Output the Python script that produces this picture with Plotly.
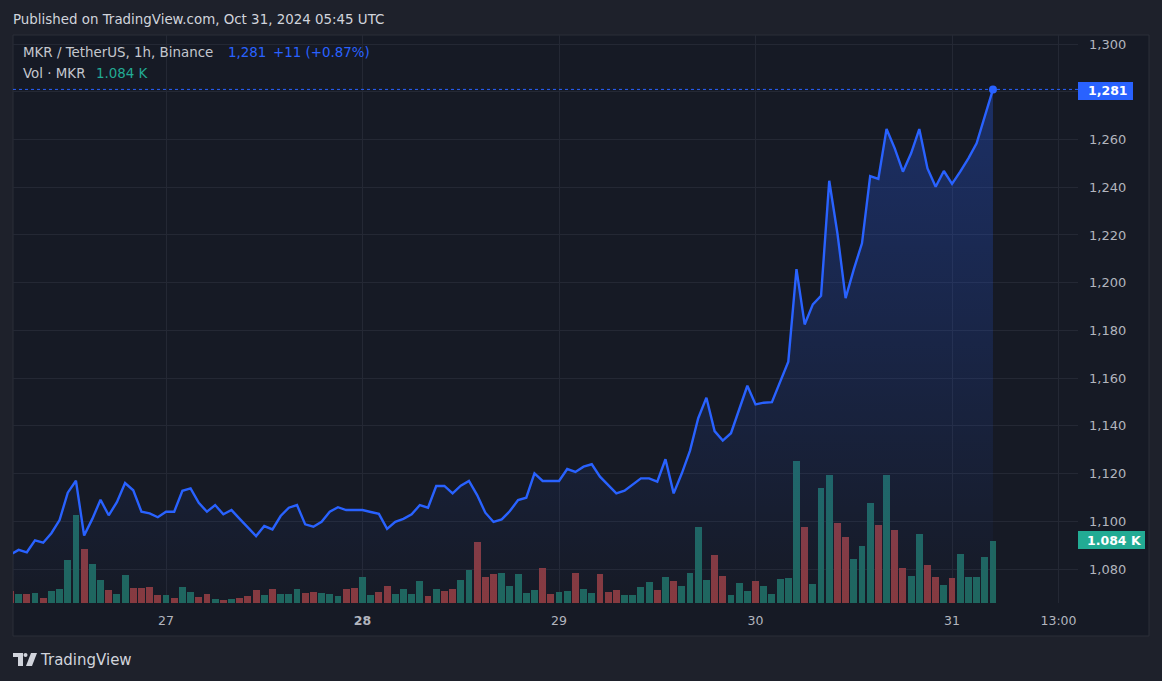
import plotly.graph_objects as go
import pandas as pd

# ---------------- data ----------------
start_time = "2024-10-26 05:00"
price = [1086, 1088, 1087, 1092, 1091, 1095, 1100.5, 1112, 1117, 1094, 1101,
         1109, 1102.5, 1108, 1116, 1113, 1104, 1103.3, 1101.7, 1104, 1104,
         1112.8, 1113.8, 1107.7, 1104, 1106.8, 1102.9, 1104.7, 1101, 1097.5, 1093.8,
         1098, 1096.6, 1102.2, 1105.7, 1106.8, 1098.7, 1097.7, 1099.8, 1104, 1105.9,
         1104.7, 1104.7, 1104.7, 1103.9, 1103.1, 1096.8, 1099.8, 1101, 1102.9, 1106.8,
         1105.7, 1114.8, 1114.8, 1111.7, 1114.9, 1116.9, 1111, 1103.6, 1099.7, 1100.8,
         1104.3, 1108.9, 1109.9, 1120.1, 1116.9, 1116.9, 1116.9, 1121.9, 1120.7, 1122.9,
         1123.9, 1118.7, 1115.2, 1111.7, 1112.8, 1115.6, 1118, 1118, 1116.6, 1126,
         1111.7, 1120.1, 1129.6, 1143.2, 1151.8, 1137.8, 1133.8, 1136.9, 1146.6, 1156.8,
         1149, 1149.7, 1149.9, 1158.5, 1166.9, 1205.7, 1182.5, 1190.9, 1194.5, 1242.7,
         1220.7, 1193.5, 1205.6, 1216.5, 1244.7, 1243.5, 1264.4, 1256.3, 1246.5, 1254.2,
         1264.4, 1247.9, 1240.2, 1246.8, 1241.4, 1246.5, 1252.1, 1258.4, 1270, 1281]

volume = [210, 157, 157, 175, 87, 210, 245, 752, 1538, 944, 682,
          402, 227, 157, 489, 262, 262, 280, 140, 140, 87,
          280, 192, 105, 157, 70, 52, 70, 87, 122, 227,
          140, 245, 157, 157, 245, 175, 192, 175, 157, 122,
          245, 262, 454, 140, 192, 297, 157, 245, 157, 385,
          122, 245, 210, 245, 402, 577, 1066, 454, 507, 524,
          297, 507, 175, 227, 612, 157, 192, 210, 524, 245,
          175, 507, 192, 227, 140, 140, 280, 367, 227, 454,
          385, 297, 524, 1328, 402, 839, 472, 140, 350, 210,
          385, 297, 157, 420, 437, 2482, 1328, 332, 2010, 2237,
          1398, 1154, 769, 996, 1748, 1363, 2237, 1276, 612, 472,
          1206, 664, 454, 315, 437, 857, 454, 454, 804, 1084]

vol_dir = ["d", "u", "d", "u", "d", "u", "u", "u", "u", "d", "u",
           "u", "d", "u", "u", "d", "d", "d", "d", "u", "d",
           "u", "u", "d", "d", "u", "d", "u", "d", "d", "d",
           "u", "d", "u", "u", "u", "d", "d", "u", "u", "u",
           "d", "d", "u", "u", "d", "d", "u", "u", "u", "u",
           "d", "u", "d", "d", "u", "u", "d", "d", "d", "u",
           "u", "u", "u", "u", "d", "d", "u", "u", "d", "u",
           "u", "d", "d", "d", "u", "u", "u", "u", "d", "u",
           "d", "u", "u", "u", "u", "d", "d", "u", "u", "u",
           "d", "u", "u", "u", "u", "u", "d", "u", "u", "u",
           "d", "d", "u", "u", "u", "d", "u", "d", "d", "u",
           "u", "d", "d", "u", "d", "u", "u", "u", "u", "u"]

y_ticks = [1080, 1100, 1120, 1140, 1160, 1180, 1200, 1220, 1240, 1260, 1280, 1300]
y_ticktext = ["1,080", "1,100", "1,120", "1,140", "1,160", "1,180", "1,200",
              "1,220", "1,240", "1,260", "", "1,300"]
x_ticks = ["2024-10-27", "2024-10-28", "2024-10-29", "2024-10-30",
           "2024-10-31", "2024-10-31 13:00"]
x_ticktext = ["27", "<b>28</b>", "29", "30", "31", "13:00"]

# ---------------- style ----------------
W, H = 1162, 681
L, R, T, B = 13, 1078, 35, 603
OUTER = "#1e212b"
PANE = "#161a25"
GRID = "#242834"
TEXT = "#b2b5be"
BLUE = "#2962ff"
TEAL = "#22ab94"
VOL_UP = "#1f665f"
VOL_DN = "#863a40"
FONT = "DejaVu Sans"

def X(px):
    return (px - L) / (R - L)

def Y(py):
    return (B - py) / (B - T)

times = pd.date_range(start_time, periods=len(price), freq="h")
vol_colors = [VOL_UP if d == "u" else VOL_DN for d in vol_dir]

fig = go.Figure()

fig.add_trace(go.Bar(x=times, y=volume, marker=dict(color=vol_colors, line=dict(width=0)),
                     width=0.84 * 3600 * 1000, yaxis="y", hoverinfo="skip"))

fig.add_trace(go.Scatter(x=times, y=[1050] * len(price), mode="lines",
                         line=dict(width=0, color="rgba(0,0,0,0)"), yaxis="y2",
                         hoverinfo="skip", showlegend=False))
fig.add_trace(go.Scatter(x=times, y=price, mode="lines", yaxis="y2",
                         line=dict(color=BLUE, width=2.4),
                         fill="tonexty",
                         fillgradient=dict(type="vertical",
                                           colorscale=[[0, "rgba(41,98,255,0.0)"],
                                                       [1, "rgba(41,98,255,0.30)"]],
                                           start=1065, stop=1281)))
fig.add_trace(go.Scatter(x=[times[-1]], y=[price[-1]], mode="markers", yaxis="y2",
                         marker=dict(color=BLUE, size=8), hoverinfo="skip"))

x0 = pd.Timestamp("2024-10-26 05:18:45")
x1 = pd.Timestamp("2024-10-31 15:23:00")

fig.update_layout(
    width=W, height=H,
    margin=dict(l=L, r=W - R, t=T, b=H - B, pad=0),
    paper_bgcolor=OUTER, plot_bgcolor=PANE,
    showlegend=False,
    bargap=0,
    font=dict(family=FONT, color=TEXT, size=12),
    xaxis=dict(type="date", range=[x0, x1], tickvals=x_ticks, ticktext=x_ticktext,
               showgrid=True, gridcolor=GRID, gridwidth=1, zeroline=False,
               showline=False, ticks="", ticklabelstandoff=8,
               tickfont=dict(size=12.5, color=TEXT, family=FONT)),
    yaxis=dict(range=[0, 9929], visible=False, showgrid=False, fixedrange=True),
    yaxis2=dict(range=[1065.75, 1303.8], overlaying="y", side="right",
                tickvals=y_ticks, ticktext=y_ticktext, showgrid=True,
                gridcolor=GRID, gridwidth=1, zeroline=False, showline=False,
                ticks="", ticklabelstandoff=10,
                tickfont=dict(size=13, color=TEXT, family=FONT)),
)

shapes = [
    # chart pane incl. scales
    dict(type="rect", xref="paper", yref="paper", x0=X(13), x1=X(1149), y0=Y(636), y1=Y(35),
         fillcolor=PANE, line=dict(color="#2a2e39", width=1), layer="below"),
    # last price dotted line
    dict(type="line", xref="paper", yref="y2", x0=0, x1=1, y0=price[-1], y1=price[-1],
         line=dict(color=BLUE, width=1, dash="dot")),
    # price label box
    dict(type="rect", xref="paper", yref="paper", x0=X(1078), x1=X(1133), y0=Y(100), y1=Y(82),
         fillcolor=BLUE, line=dict(width=0)),
    # volume label box
    dict(type="rect", xref="paper", yref="paper", x0=X(1078), x1=X(1145), y0=Y(549), y1=Y(531),
         fillcolor=TEAL, line=dict(width=0)),
    # TradingView logo
    dict(type="path", xref="paper", yref="paper",
         path=f"M {X(13)},{Y(653)} L {X(23)},{Y(653)} L {X(23)},{Y(666)} L {X(18)},{Y(666)} "
              f"L {X(18)},{Y(657)} L {X(13)},{Y(657)} Z",
         fillcolor="#d1d4dc", line=dict(width=0)),
    dict(type="circle", xref="paper", yref="paper", x0=X(23.5), x1=X(27.5), y0=Y(657), y1=Y(653),
         fillcolor="#d1d4dc", line=dict(width=0)),
    dict(type="path", xref="paper", yref="paper",
         path=f"M {X(31)},{Y(653)} L {X(37)},{Y(653)} L {X(32)},{Y(666)} L {X(26)},{Y(666)} Z",
         fillcolor="#d1d4dc", line=dict(width=0)),
]

def ann(text, px, py, color, size, xanchor="left", bold=False):
    return dict(text=f"<b>{text}</b>" if bold else text, xref="paper", yref="paper",
                x=X(px), y=Y(py), xanchor=xanchor, yanchor="middle", showarrow=False,
                font=dict(color=color, size=size, family=FONT))

annotations = [
    ann("Published on TradingView.com, Oct 31, 2024 05:45 UTC", 11, 19, "#d1d4dc", 13.4),
    ann("MKR / TetherUS, 1h, Binance", 21, 53, "#c4c7ce", 13.4),
    ann("1,281", 226, 53, BLUE, 13.4),
    ann("+11 (+0.87%)", 271, 53, BLUE, 13.4),
    ann("Vol · MKR", 21, 73, "#c4c7ce", 13.4),
    ann("1.084 K", 94, 73, TEAL, 13.4),
    ann("1,281", 1086, 91, "#ffffff", 12.5, bold=True),
    ann("1.084 K", 1085, 540, "#ffffff", 12.5, bold=True),
    ann("TradingView", 38, 660, "#d1d4dc", 15),
]

fig.update_layout(shapes=shapes, annotations=annotations)
fig.write_html("out.html")
